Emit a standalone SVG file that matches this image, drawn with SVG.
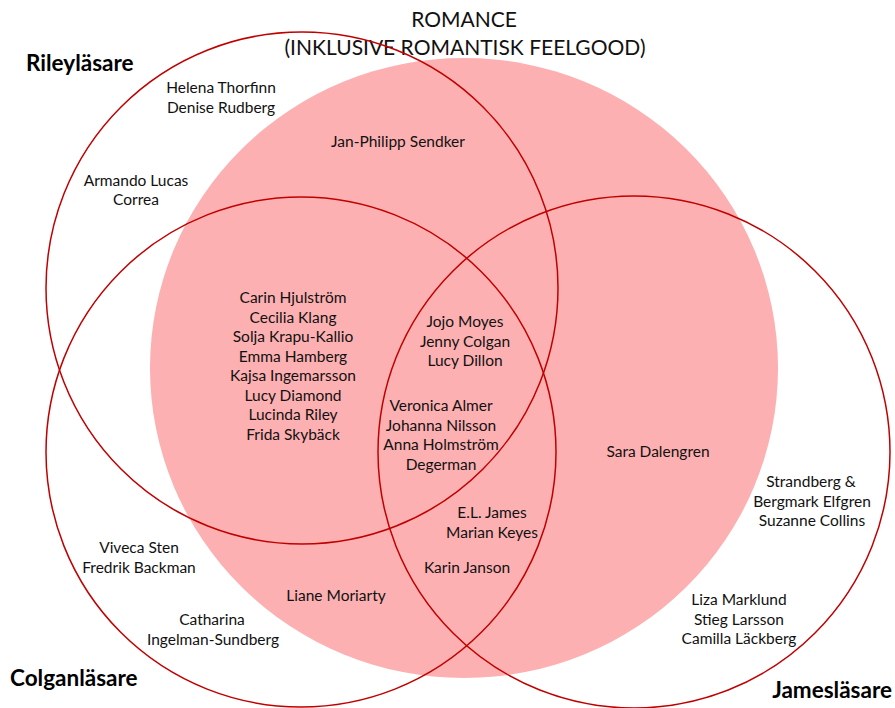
<svg xmlns="http://www.w3.org/2000/svg" width="895" height="708" viewBox="0 0 895 708">
<style>
.ring{fill:none;stroke:#c00000;stroke-width:1.5}
.t{font-family:Lato,"Liberation Sans",sans-serif;font-size:15.5px;fill:#111;text-anchor:middle}
.h{font-family:Lato,"Liberation Sans",sans-serif;font-size:22.5px;font-weight:bold;fill:#000}
.title{font-family:Lato,"Liberation Sans",sans-serif;font-size:21px;fill:#111;text-anchor:middle}
</style>
<rect width="895" height="708" fill="#fff"/>
<g id="romance">
<ellipse cx="464" cy="368" rx="314" ry="310" fill="#fdb0b1"/>
<text class="title" x="464" y="27">ROMANCE</text>
<text class="title" x="465" y="55">(INKLUSIVE ROMANTISK FEELGOOD)</text>
</g>
<g id="riley">
<circle class="ring" cx="302" cy="288" r="256"/>
<text class="h" x="26" y="71">Rileyläsare</text>
</g>
<g id="colgan">
<circle class="ring" cx="301" cy="452" r="255"/>
<text class="h" x="10" y="686">Colganläsare</text>
</g>
<g id="james">
<circle class="ring" cx="634" cy="452" r="256"/>
<text class="h" x="892" y="698" text-anchor="end">Jamesläsare</text>
</g>
<g id="labels">
<text class="t" x="221" y="93">Helena Thorfinn</text>
<text class="t" x="221" y="113">Denise Rudberg</text>
<text class="t" x="398" y="147">Jan-Philipp Sendker</text>
<text class="t" x="136" y="186">Armando Lucas</text>
<text class="t" x="136" y="205">Correa</text>
<text class="t" x="293" y="303">Carin Hjulström</text>
<text class="t" x="293" y="322.5">Cecilia Klang</text>
<text class="t" x="293" y="342">Solja Krapu-Kallio</text>
<text class="t" x="293" y="361.5">Emma Hamberg</text>
<text class="t" x="293" y="381">Kajsa Ingemarsson</text>
<text class="t" x="293" y="400.5">Lucy Diamond</text>
<text class="t" x="293" y="420">Lucinda Riley</text>
<text class="t" x="293" y="439.5">Frida Skybäck</text>
<text class="t" x="465" y="327">Jojo Moyes</text>
<text class="t" x="465" y="346.5">Jenny Colgan</text>
<text class="t" x="465" y="366">Lucy Dillon</text>
<text class="t" x="441" y="411">Veronica Almer</text>
<text class="t" x="441" y="430.5">Johanna Nilsson</text>
<text class="t" x="441" y="450">Anna Holmström</text>
<text class="t" x="441" y="469.5">Degerman</text>
<text class="t" x="658" y="457">Sara Dalengren</text>
<text class="t" x="811" y="487">Strandberg &amp;</text>
<text class="t" x="812" y="506.5">Bergmark Elfgren</text>
<text class="t" x="812" y="526">Suzanne Collins</text>
<text class="t" x="492" y="518">E.L. James</text>
<text class="t" x="492" y="537.5">Marian Keyes</text>
<text class="t" x="467" y="573">Karin Janson</text>
<text class="t" x="336" y="601">Liane Moriarty</text>
<text class="t" x="139" y="553">Viveca Sten</text>
<text class="t" x="139" y="572.5">Fredrik Backman</text>
<text class="t" x="212" y="625">Catharina</text>
<text class="t" x="213" y="644.5">Ingelman-Sundberg</text>
<text class="t" x="739" y="605">Liza Marklund</text>
<text class="t" x="739" y="624.5">Stieg Larsson</text>
<text class="t" x="739" y="644">Camilla Läckberg</text>
</g>
</svg>
